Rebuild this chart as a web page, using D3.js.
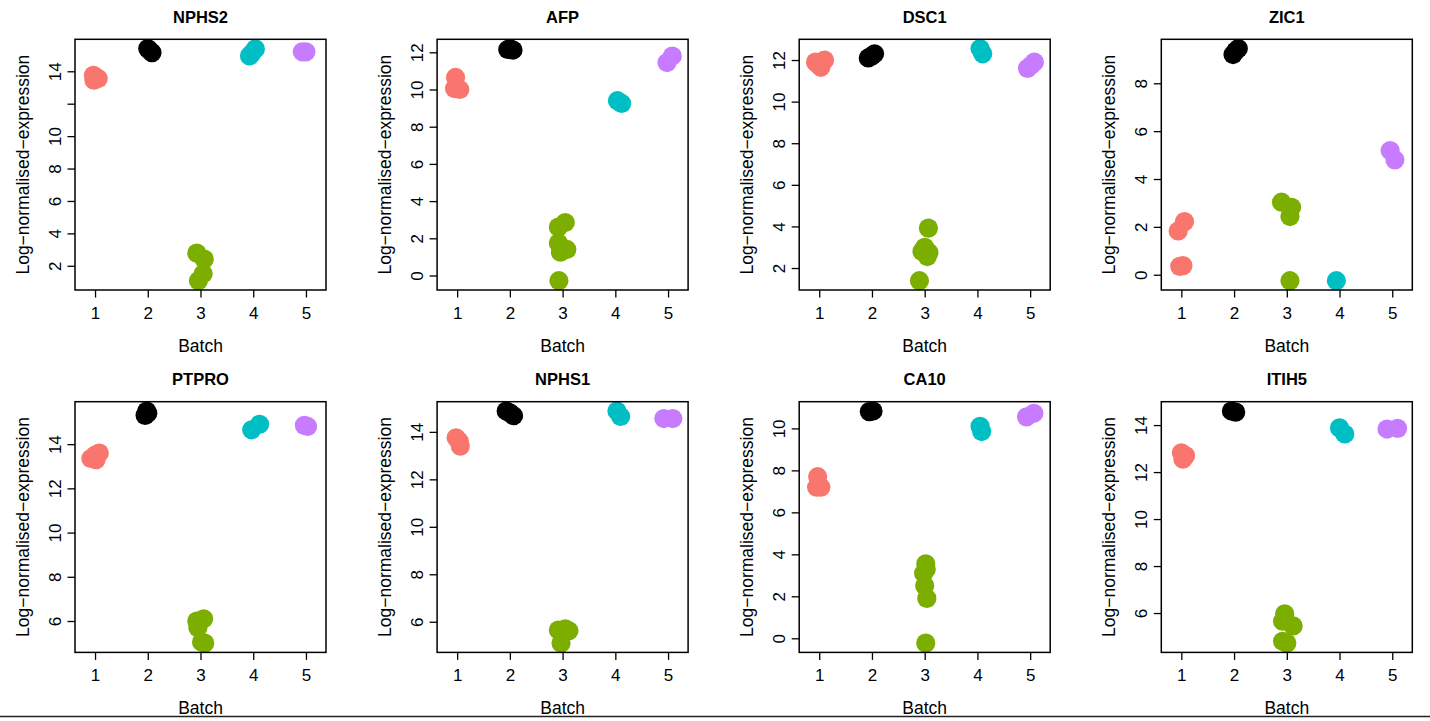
<!DOCTYPE html>
<html>
<head>
<meta charset="utf-8">
<script src="https://cdn.jsdelivr.net/npm/d3@7"></script>
<style>
  body { margin: 0; background: #fff; }
  svg { display: block; font-family: "Liberation Sans", Arial, sans-serif; }
</style>
</head>
<body>
<div id="chart"></div>
<script>
// one panel per gene, points are [jittered batch, log-normalised expression]
const genes = ["NPHS2", "AFP", "DSC1", "ZIC1", "PTPRO", "NPHS1", "CA10", "ITIH5"];
const batches = [1, 2, 3, 4, 5];
const batchColors = ["#F8766D", "#000000", "#7CAE00", "#00BFC4", "#C77CFF"];

const NPHS2 = [
  [0.97, 13.75], [1.06, 13.55], [0.98, 13.45], [1.03, 13.6],
  [2.0, 15.4], [2.08, 15.15], [2.03, 15.3],
  [2.93, 2.78], [3.07, 2.41], [3.05, 1.51], [2.96, 1.08],
  [4.04, 15.38], [3.93, 14.95], [3.97, 15.1],
  [4.93, 15.2], [5.0, 15.2],
];
const AFP = [
  [0.97, 10.65], [0.95, 10.05], [1.05, 10.0],
  [1.96, 12.15], [2.06, 12.12], [2.0, 12.2],
  [2.92, 2.6], [3.05, 2.85], [2.92, 1.75], [3.08, 1.4], [2.96, 1.25], [2.93, -0.28],
  [4.04, 9.4], [4.12, 9.25],
  [4.98, 11.45], [5.08, 11.8],
];
const DSC1 = [
  [0.93, 11.9], [1.1, 12.0], [1.03, 11.65], [0.97, 11.8],
  [1.93, 12.1], [2.05, 12.3], [2.0, 12.2],
  [3.07, 3.92], [2.95, 2.8], [3.08, 2.75], [3.0, 3.0], [3.05, 2.55], [2.9, 1.39],
  [4.05, 12.55], [4.1, 12.3],
  [4.95, 11.6], [5.08, 11.9], [5.02, 11.75],
];
const ZIC1 = [
  [0.94, 1.83], [1.06, 2.22], [0.97, 0.35], [1.03, 0.38],
  [1.98, 9.2], [2.08, 9.45], [2.03, 9.35],
  [2.9, 3.03], [3.09, 2.82], [3.06, 2.43], [3.06, -0.25],
  [3.94, -0.25],
  [4.96, 5.19], [5.05, 4.8],
];
const PTPRO = [
  [0.92, 13.35], [1.08, 13.6], [1.02, 13.3], [1.0, 13.5],
  [1.98, 15.5], [1.95, 15.3], [2.0, 15.4],
  [2.93, 6.0], [3.06, 6.1], [2.95, 5.7], [3.02, 5.05], [3.08, 5.0],
  [3.97, 14.65], [4.12, 14.9],
  [4.97, 14.85], [5.03, 14.8],
];
const NPHS1 = [
  [0.98, 13.75], [1.06, 13.4], [1.04, 13.6],
  [1.93, 14.88], [2.07, 14.68], [2.0, 14.8],
  [2.92, 5.65], [3.05, 5.7], [3.12, 5.62], [2.97, 5.1],
  [4.03, 14.88], [4.1, 14.65],
  [4.92, 14.56], [5.09, 14.56],
];
const CA10 = [
  [0.97, 7.7], [0.95, 7.2], [1.03, 7.2],
  [1.95, 10.8], [2.02, 10.83],
  [3.02, 3.55], [2.98, 3.1], [3.03, 3.3], [3.0, 2.5], [3.04, 1.9], [3.02, -0.23],
  [4.05, 10.1], [4.08, 9.85],
  [4.93, 10.55], [5.07, 10.72],
];
const ITIH5 = [
  [1.0, 12.82], [1.08, 12.7], [1.03, 12.55],
  [1.95, 14.6], [2.03, 14.55],
  [2.96, 5.97], [2.92, 5.65], [3.12, 5.45], [2.92, 4.8], [3.0, 4.72],
  [4.0, 13.88], [4.1, 13.62],
  [4.9, 13.83], [5.1, 13.86],
];

const yTickValues = [
  [2, 4, 6, 8, 10, 12, 14],
  [0, 2, 4, 6, 8, 10, 12],
  [2, 4, 6, 8, 10, 12],
  [0, 2, 4, 6, 8],
  [6, 8, 10, 12, 14],
  [6, 8, 10, 12, 14],
  [0, 2, 4, 6, 8, 10],
  [6, 8, 10, 12, 14],
];
// R dropped the "12" label on the first panel
const yTickLabels = [
  ["2", "4", "6", "8", "10", "", "14"],
  ["0", "2", "4", "6", "8", "10", "12"],
  ["2", "4", "6", "8", "10", "12"],
  ["0", "2", "4", "6", "8"],
  ["6", "8", "10", "12", "14"],
  ["6", "8", "10", "12", "14"],
  ["0", "2", "4", "6", "8", "10"],
  ["6", "8", "10", "12", "14"],
];

const panelData = [NPHS2, AFP, DSC1, ZIC1, PTPRO, NPHS1, CA10, ITIH5];

const width = 1430;
const height = 721;
const panelW = 362.1;
const panelH = 362.4;
const box = { left: 75, top: 39.3, right: 326, bottom: 290 };
const radius = 9.6;

const svg = d3
  .select("#chart")
  .append("svg")
  .attr("width", width)
  .attr("height", height);

genes.forEach((gene, i) => {
  const data = panelData[i];
  const col = i % 4;
  const row = Math.floor(i / 4);

  const g = svg
    .append("g")
    .attr("transform", `translate(${col * panelW},${row * panelH})`);

  const x = d3.scaleLinear().domain([0.62, 5.38]).range([box.left, box.right]);

  // R style: data extent plus 4% each side
  const [lo, hi] = d3.extent(data, (d) => d[1]);
  const pad = (hi - lo) * 0.04;
  const y = d3
    .scaleLinear()
    .domain([lo - pad, hi + pad])
    .range([box.bottom, box.top]);

  g.append("text")
    .attr("x", (box.left + box.right) / 2)
    .attr("y", 22.5)
    .attr("text-anchor", "middle")
    .attr("font-weight", "bold")
    .style("font-size", "16.5px")
    .text(gene);

  g.append("g")
    .selectAll("circle")
    .data(data)
    .join("circle")
    .attr("cx", (d) => x(d[0]))
    .attr("cy", (d) => y(d[1]))
    .attr("r", radius)
    .attr("fill", (d) => batchColors[Math.round(d[0]) - 1]);

  const labels = yTickLabels[i];
  const yAxisG = g
    .append("g")
    .attr("transform", `translate(${box.left},0)`)
    .call(
      d3
        .axisLeft(y)
        .tickValues(yTickValues[i])
        .tickSize(7.5)
        .tickFormat((d, j) => labels[j])
    );
  yAxisG.select(".domain").remove();
  yAxisG.selectAll(".tick line").attr("stroke", "#000").attr("stroke-width", 1.3);
  yAxisG
    .selectAll(".tick text")
    .attr("transform", "rotate(-90)")
    .attr("text-anchor", "middle")
    .attr("x", 0)
    .attr("y", -14)
    .attr("dy", null)
    .attr("fill", "#000")
    .style("font-size", "17px")
    .style("font-family", "'Liberation Sans', Arial, sans-serif");

  const xAxisG = g
    .append("g")
    .attr("transform", `translate(0,${box.bottom})`)
    .call(
      d3.axisBottom(x).tickValues(batches).tickSize(7.5).tickFormat(d3.format("d"))
    );
  xAxisG.select(".domain").remove();
  xAxisG.selectAll(".tick line").attr("stroke", "#000").attr("stroke-width", 1.3);
  xAxisG
    .selectAll(".tick text")
    .attr("y", 29)
    .attr("dy", null)
    .attr("fill", "#000")
    .style("font-size", "17px")
    .style("font-family", "'Liberation Sans', Arial, sans-serif");

  g.append("rect")
    .attr("x", box.left)
    .attr("y", box.top)
    .attr("width", box.right - box.left)
    .attr("height", box.bottom - box.top)
    .attr("fill", "none")
    .attr("stroke", "#000")
    .attr("stroke-width", 1.5);

  g.append("text")
    .attr("x", (box.left + box.right) / 2)
    .attr("y", 351.5)
    .attr("text-anchor", "middle")
    .style("font-size", "17.5px")
    .text("Batch");

  g.append("text")
    .attr("transform", `translate(29,${(box.top + box.bottom) / 2}) rotate(-90)`)
    .attr("text-anchor", "middle")
    .style("font-size", "17.5px")
    .text("Log\u2212normalised\u2212expression");
});

// the picture is cut off along the bottom
svg
  .append("rect")
  .attr("x", 0)
  .attr("y", 717)
  .attr("width", width)
  .attr("height", height - 717)
  .attr("fill", "#fff");
svg
  .append("line")
  .attr("x1", 0)
  .attr("x2", width)
  .attr("y1", 716.5)
  .attr("y2", 716.5)
  .attr("stroke", "#222")
  .attr("stroke-width", 1.5);
</script>
</body>
</html>
